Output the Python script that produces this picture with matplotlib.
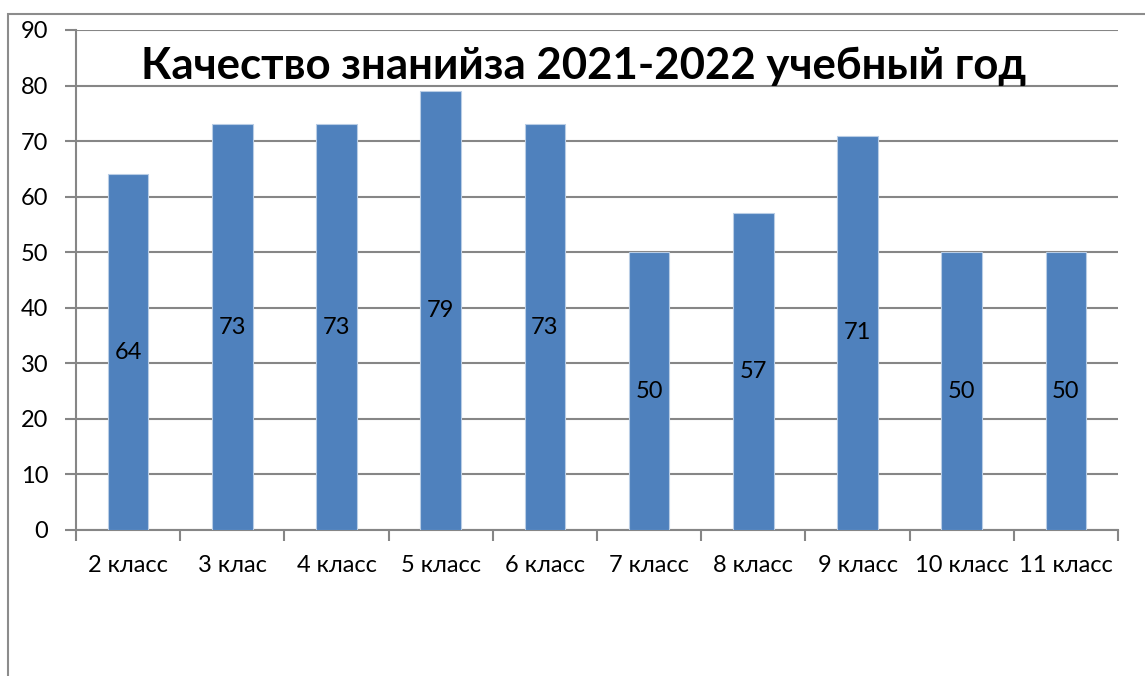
import matplotlib
matplotlib.use("Agg")
import matplotlib.pyplot as plt
from matplotlib.patches import Rectangle

categories = ["2 класс", "3 клас", "4 класс", "5 класс", "6 класс",
              "7 класс", "8 класс", "9 класс", "10 класс", "11 класс"]
values = [64, 73, 73, 79, 73, 50, 57, 71, 50, 50]
yticks = [0, 10, 20, 30, 40, 50, 60, 70, 80, 90]
title = "Качество знанийза 2021-2022 учебный год"

plt.rcParams['font.family'] = ['Lato', 'DejaVu Sans']

fig = plt.figure(figsize=(11.45, 6.76), dpi=100)
fig.patches.append(Rectangle((8/1145, -0.1), 1.2, 1 - 14/676 + 0.1, transform=fig.transFigure,
                             fill=False, edgecolor='#8c8c8c', linewidth=1.5))
ax = fig.add_axes([76/1145, 1 - 530/676, (1118-76)/1145, 500/676])

x = list(range(len(categories)))
bars = ax.bar(x, values, width=0.39, color='#4F81BD', edgecolor='#B9CDE5', linewidth=0.8, zorder=3)
for xi, v in zip(x, values):
    ax.text(xi, v/2, str(v), ha='center', va='center', fontsize=17, color='black', zorder=4)

ax.set_xlim(-0.5, len(categories) - 0.5)
ax.set_ylim(0, 90)
ax.set_yticks(yticks)
ax.set_yticklabels([str(t) for t in yticks], fontsize=17)
ax.set_xticks([i - 0.5 for i in range(len(categories) + 1)], minor=False)
ax.set_xticklabels([])
ax.set_xticks(x, minor=True)
ax.set_xticklabels(categories, minor=True, fontsize=17)
ax.tick_params(axis='x', which='major', direction='out', length=8, color='#868686', width=1.5)
ax.tick_params(axis='x', which='minor', length=0, pad=18)
ax.tick_params(axis='y', direction='out', length=8, color='#868686', width=1.5, pad=12)
ax.yaxis.grid(True, color='#868686', linewidth=1.5, zorder=0)
ax.set_axisbelow(True)
for s in ['top', 'right']:
    ax.spines[s].set_visible(False)
for s in ['left', 'bottom']:
    ax.spines[s].set_color('#868686')
    ax.spines[s].set_linewidth(1.5)

ax.text(0.487, 0.928, title, transform=ax.transAxes, ha='center', va='center',
        fontsize=31.5, fontweight='bold', color='black', zorder=5)

fig.savefig("out.png", dpi=100)
